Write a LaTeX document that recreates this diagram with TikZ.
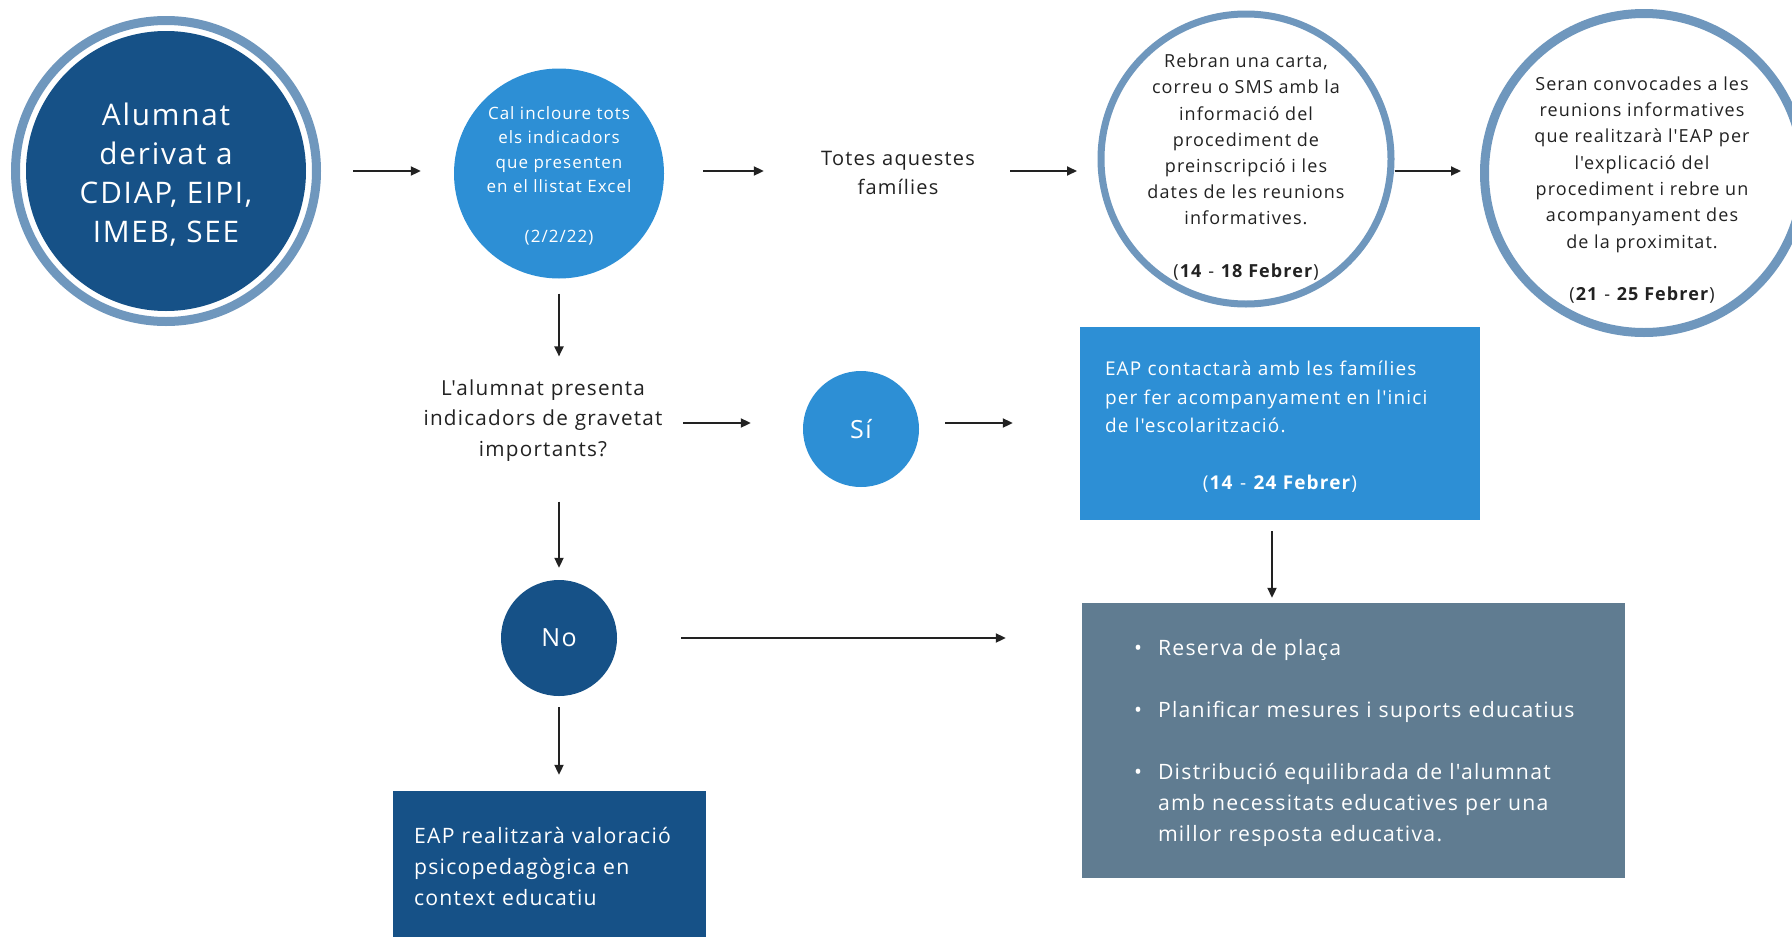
\documentclass[tikz,border=0pt]{standalone}
\usepackage{fontspec}
\setmainfont{Open Sans}[LetterSpace=6, Ligatures=TeXOff]
\usetikzlibrary{arrows.meta,calc}
\definecolor{dblue}{HTML}{165187}
\definecolor{lblue}{HTML}{2D8FD5}
\definecolor{ringc}{HTML}{6F97BD}
\definecolor{greyb}{HTML}{607C91}
\definecolor{txt}{HTML}{222222}
\newcommand{\fsz}[2]{\fontsize{#1}{#2}\selectfont}
\begin{document}
\begin{tikzpicture}[x=1pt,y=-1pt,
  arr/.style={line width=2pt, draw=txt, -{Triangle[length=10pt,width=9pt]}},
  fillc/.style={circle, inner sep=0pt},
  ringnode/.style={circle, draw=ringc, fill=white, inner sep=0pt},
  wtext/.style={text=white, align=center, inner sep=0pt},
  dtext/.style={text=txt, align=center, inner sep=0pt},
  boxn/.style={rectangle, inner ysep=0pt, align=left, text=white}
]
\useasboundingbox (0,0) rectangle (1792,937);
\clip (0,0) rectangle (1792,937);
\fill[white] (0,0) rectangle (1792,937);

% big circle
\node[fillc, fill=dblue, minimum size=280pt] (a) at (166,171) {};
\draw[ringc, line width=9pt] (a.center) circle[radius=150.5pt];
\node[wtext, font=\fsz{29.7}{39}] (at) at (166,175) {Alumnat\\derivat a\\CDIAP, EIPI,\\IMEB, SEE};

% Cal incloure
\node[fillc, fill=lblue, minimum size=210pt] (b) at (559,173.5) {};
\node[wtext, font=\fsz{17}{24.6}] (bt) at (559,175.5) {Cal incloure tots\\els indicadors\\que presenten\\en el llistat Excel\\[24.6pt](2/2/22)};

% Totes aquestes
\node[dtext, font=\fsz{20}{28.5}, text width=190pt] (c) at (898,173) {Totes aquestes\\famílies};

% Rebran
\node[ringnode, line width=7pt, minimum size=290pt] (d) at (1246,159) {};
\node[dtext, font=\fsz{18}{26.2}] (dt) at (1246,167) {Rebran una carta,\\correu o SMS amb la\\informació del\\procediment de\\preinscripció i les\\dates de les reunions\\informatives.\\[26.2pt](\textbf{14} - \textbf{18 Febrer})};

% Seran
\node[ringnode, line width=9pt, minimum size=319pt] (e) at (1644,173) {};
\node[dtext, font=\fsz{18}{26.3}] (et) at (1642,190) {Seran convocades a les\\reunions informatives\\que realitzarà l'EAP per\\l'explicació del\\procediment i rebre un\\acompanyament des\\de la proximitat.\\[26.3pt](\textbf{21} - \textbf{25 Febrer})};

% question
\node[dtext, font=\fsz{20.7}{30.5}, text width=260pt] (f) at (543,420.5) {L'alumnat presenta\\indicadors de gravetat\\importants?};

% Si
\node[fillc, fill=lblue, minimum size=116pt, text=white, font=\fsz{25}{28}] (g) at (861,429) {Sí};

% EAP contactara
\node[boxn, fill=lblue, minimum width=400pt, minimum height=193pt, text width=350pt, inner xsep=25pt, font=\fsz{19}{28.4}] (h) at (1280,423.5) {\mbox{}\\[-7pt]EAP contactarà amb les famílies\\per fer acompanyament en l'inici\\de l'escolarització.\\[28.4pt]\makebox[350pt]{(\textbf{14} - \textbf{24 Febrer})}};

% grey box
\node[boxn, fill=greyb, minimum width=543pt, minimum height=275pt, text width=469pt, inner xsep=37pt, font=\fsz{21.2}{31}] (i) at (1353.5,740.5) {\mbox{}\\[-9pt]\hspace*{15pt}\makebox[24pt][l]{•}Reserva de plaça\\[31pt]\hspace*{15pt}\makebox[24pt][l]{•}Planificar mesures i suports educatius\\[31pt]\hspace*{15pt}\makebox[24pt][l]{•}Distribució equilibrada de l'alumnat\\\hspace*{39pt}amb necessitats educatives per una\\\hspace*{39pt}millor resposta educativa.};

% No
\node[fillc, fill=dblue, minimum size=116pt, text=white, font=\fsz{25}{28}] (j) at (559,638) {No};

% EAP realitzara
\node[boxn, fill=dblue, minimum width=313pt, minimum height=150pt, text width=281pt, inner xsep=16pt, font=\fsz{21.2}{31}] (k) at (549.5,866) {\hspace*{5pt}EAP realitzarà valoració\\\hspace*{5pt}psicopedagògica en\\\hspace*{5pt}context educatiu};

% arrows
\draw[arr, shorten <=47pt, shorten >=33pt] (a.east) -- (a.east -| b.west);
\draw[arr, shorten <=39pt, shorten >=39pt] (b.east |- a.east) -- (c.west |- a.east);
\draw[arr, shorten <=17pt, shorten >=20.5pt] (c.east |- a.east) -- (d.west |- a.east);
\draw[arr, shorten >=19pt] (d.east |- a.east) -- (e.west |- a.east);
\draw[arr, shorten <=15pt, shorten >=23pt] (b.south) -- (b.south |- f.north);
\draw[arr, shorten <=10pt, shorten >=52pt] ([yshift=6pt]g.west -| f.east) -- ([yshift=6pt]g.west);
\draw[arr, shorten <=26pt, shorten >=67pt] ([yshift=6pt]g.east) -- ([yshift=6pt]g.east -| h.west);
\draw[arr, shorten <=11pt, shorten >=5pt] ([xshift=-8pt]h.south) -- ([xshift=-8pt]h.south |- i.north);
\draw[arr, shorten <=40pt, shorten >=12pt] (j.north |- f.south) -- (j.north);
\draw[arr, shorten <=64pt, shorten >=76pt] (j.east) -- (j.east -| i.west);
\draw[arr, shorten <=11pt, shorten >=16pt] (j.south) -- (j.south |- k.north);
\end{tikzpicture}
\end{document}
